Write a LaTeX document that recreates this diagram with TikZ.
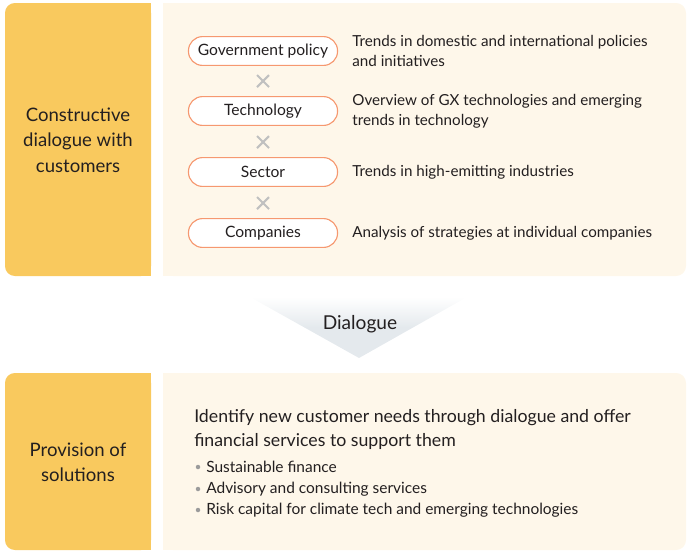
\documentclass[tikz,border=0pt]{standalone}
\usepackage{fontspec}
\setmainfont{Lato}
\usetikzlibrary{positioning}

\definecolor{sideyellow}{RGB}{249,201,94}
\definecolor{panelcream}{RGB}{254,247,234}
\definecolor{pillorange}{RGB}{246,152,112}
\definecolor{crossgray}{RGB}{192,192,192}
\definecolor{dialoguegray}{RGB}{228,233,237}
\definecolor{inkdark}{RGB}{35,31,32}
\definecolor{dotgray}{RGB}{155,155,155}

\tikzset{
    pill/.style={draw=pillorange, line width=0.8pt, fill=white, rounded corners=10pt,
        minimum width=106pt, minimum height=20.5pt, inner sep=0pt,
        font=\fontsize{11.1}{12}\selectfont, text=inkdark},
    note/.style={anchor=west, align=left, inner sep=0pt,
        font=\fontsize{10.8}{14.3}\selectfont, text=inkdark},
    sidelabel/.style={align=center, inner sep=0pt,
        font=\fontsize{13.2}{18}\selectfont, text=inkdark},
    bulletline/.style={anchor=west, inner sep=0pt,
        font=\fontsize{11}{12}\selectfont, text=inkdark},
}

% yellow box: rounded on the left, square on the right
\newcommand{\sidebox}[2]{
    \fill[sideyellow, rounded corners=7pt] (5,#1) rectangle (151,#2);
    \fill[sideyellow] (120,#1) rectangle (151,#2);
}
% cream panel: square on the left, rounded on the right
\newcommand{\panel}[2]{
    \fill[panelcream, rounded corners=7pt] (163,#1) rectangle (686,#2);
    \fill[panelcream] (163,#1) rectangle (200,#2);
}
\newcommand{\crossmark}[2]{
    \draw[crossgray, line width=1.5pt] ({#1-6},{#2-6}) -- ({#1+6},{#2+6});
    \draw[crossgray, line width=1.5pt] ({#1-6},{#2+6}) -- ({#1+6},{#2-6});
}
\newcommand{\bulletdot}[2]{
    \fill[dotgray] (#1,#2) circle (1.6pt);
}

\begin{document}
\begin{tikzpicture}[x=0.025cm, y=-0.025cm]
    \useasboundingbox (0,0) rectangle (690,554);

    % upper block
    \sidebox{3}{276}
    \panel{3}{276}
    \node[sidelabel] (dialoguelabel) at (78,140) {Constructive\\dialogue with\\customers};

    \node[pill] (gov) at (263,51) {Government policy};
    \node[pill] (tech) at (263,111) {Technology};
    \node[pill] (sector) at (263,172) {Sector};
    \node[pill] (comp) at (263,233) {Companies};

    \crossmark{263}{81}
    \crossmark{263}{142}
    \crossmark{263}{203}

    \node[note, right=0.35cm of gov] (govnote) {Trends in domestic and international policies\\and initiatives};
    \node[note, right=0.35cm of tech] (technote) {Overview of GX technologies and emerging\\trends in technology};
    \node[note, right=0.35cm of sector] (sectornote) {Trends in high-emitting industries};
    \node[note, right=0.35cm of comp] (compnote) {Analysis of strategies at individual companies};

    % dialogue arrow
    \shade[top color=white, bottom color=dialoguegray, middle color=dialoguegray]
        (250,297) -- (467,297) -- (359,358) -- cycle;
    \node[font=\fontsize{13.6}{15}\selectfont, text=inkdark] (dialogue) at (360,324) {Dialogue};

    % lower block
    \sidebox{373}{550}
    \panel{373}{550}
    \node[sidelabel] (solutionlabel) at (78,462) {Provision of\\solutions};

    \node[anchor=north west, align=left, inner sep=0pt,
        font=\fontsize{12.6}{17}\selectfont, text=inkdark] (offer) at (194,409)
        {Identify new customer needs through dialogue and offer\\financial services to support them};

    \bulletdot{198}{467}
    \node[bulletline] (finance) at (206,467) {Sustainable finance};
    \bulletdot{198}{489}
    \node[bulletline] (advisory) at (206,489) {Advisory and consulting services};
    \bulletdot{198}{510}
    \node[bulletline] (riskcap) at (206,510) {Risk capital for climate tech and emerging technologies};

\end{tikzpicture}
\end{document}
